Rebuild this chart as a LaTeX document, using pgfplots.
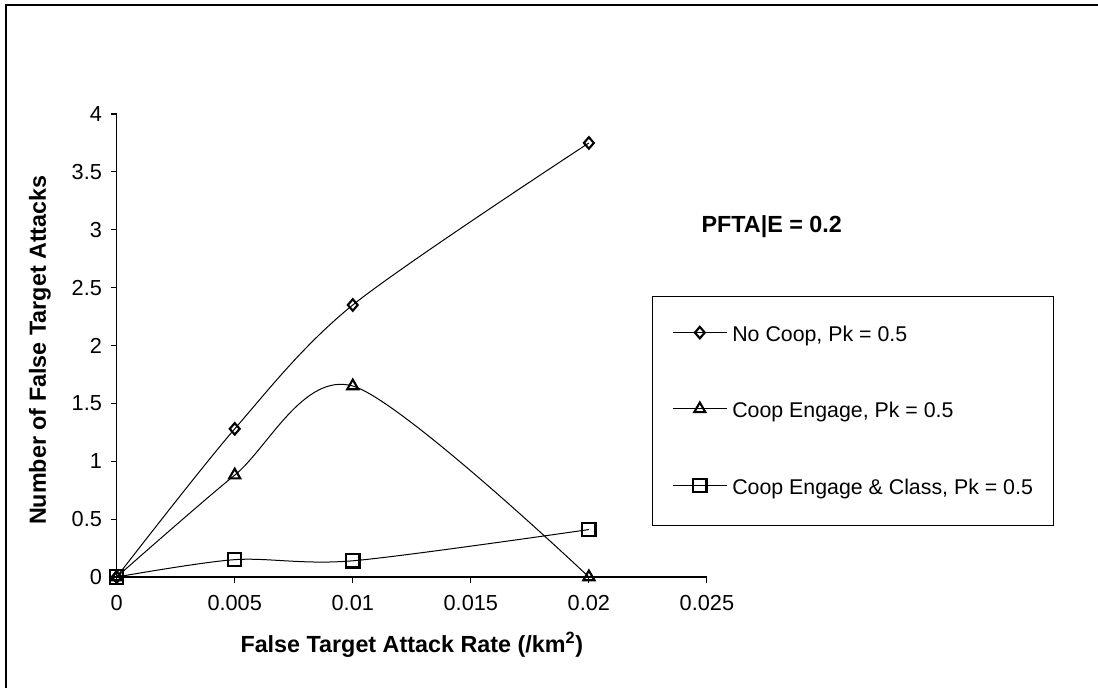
\documentclass[border=0pt]{standalone}
\usepackage{pgfplots}
\pgfplotsset{compat=1.18}
\usepackage{fontspec}
\setmainfont{Liberation Sans}
\begin{document}
\begin{tikzpicture}[x=1pt,y=1pt]
\useasboundingbox (0,0) rectangle (823.5,515.25);
\draw[line width=1.4pt] (4.5,-5) -- (4.5,511.5) -- (830,511.5);
\begin{axis}[
  at={(87.5pt,82.5pt)}, anchor=south west,
  scale only axis, width=442.7pt, height=347.25pt,
  xmin=0, xmax=0.025, ymin=0, ymax=4,
  axis x line=bottom, axis y line=left,
  axis line style={-, line width=0.8pt},
  xtick={0,0.005,0.01,0.015,0.02,0.025},
  xticklabels={0,0.005,0.01,0.015,0.02,0.025},
  ytick={0,0.5,1,1.5,2,2.5,3,3.5,4},
  yticklabels={0,0.5,1,1.5,2,2.5,3,3.5,4},
  tick align=outside, major tick length=4.5pt,
  tick style={line width=0.8pt, black},
  ticklabel style={font=\fontsize{16.3}{19}\selectfont},
  xticklabel style={yshift=-6pt},
  yticklabel style={xshift=-3pt},
  /pgf/number format/assume math mode=true,
  scaled x ticks=false,
  clip=false,
  xlabel={False Target Attack Rate (/km\textsuperscript{2})},
  ylabel={Number of False Target Attacks},
  label style={font=\bfseries\fontsize{17.5}{20}\selectfont},
  xlabel style={at={(axis description cs:0.5,-0.162)}, anchor=base},
  ylabel style={at={(axis description cs:-0.12,0.49)}, anchor=base},
  legend style={at={(axis description cs:0.9068,0.6069)}, anchor=north west,
    draw=black, line width=0.6pt, inner xsep=0pt, inner ysep=22.2pt, row sep=44.15pt, column sep=3.75pt,
    nodes={inner sep=0pt, font=\fontsize{16}{19}\selectfont}},
  legend cell align=left,
  legend image code/.code={\path (0pt,0pt); \draw[mark repeat=2, mark phase=2] plot coordinates {(15pt,1.6pt) (35.25pt,1.6pt) (55.5pt,1.6pt)};},
]
\addplot[black, line width=0.75pt, smooth, mark=diamond, mark size=4.3pt,
  mark options={line width=1.6pt, solid, fill=white, xscale=1.15}]
  coordinates {(0,0) (0.005,1.28) (0.01,2.35) (0.02,3.75)};
\addlegendentry{No Coop, Pk = 0.5}
\addplot[black, line width=0.75pt, smooth, mark=triangle, mark size=4.8pt,
  mark options={line width=1.6pt, solid, fill=white}]
  coordinates {(0,0) (0.005,0.88) (0.01,1.65) (0.02,0)};
\addlegendentry{Coop Engage, Pk = 0.5}
\addplot[black, line width=0.75pt, smooth, mark=square, mark size=5pt,
  mark options={line width=1.6pt, solid, fill=white}]
  coordinates {(0,0) (0.005,0.15) (0.01,0.14) (0.02,0.41)};
\addlegendentry{\makebox[240.75pt][l]{Coop Engage \& Class, Pk = 0.5}}
\node[anchor=base west, font=\bfseries\fontsize{17.5}{20}\selectfont] at (axis description cs:0.983,0.743) {PFTA|E = 0.2};
\end{axis}
\end{tikzpicture}
\end{document}
